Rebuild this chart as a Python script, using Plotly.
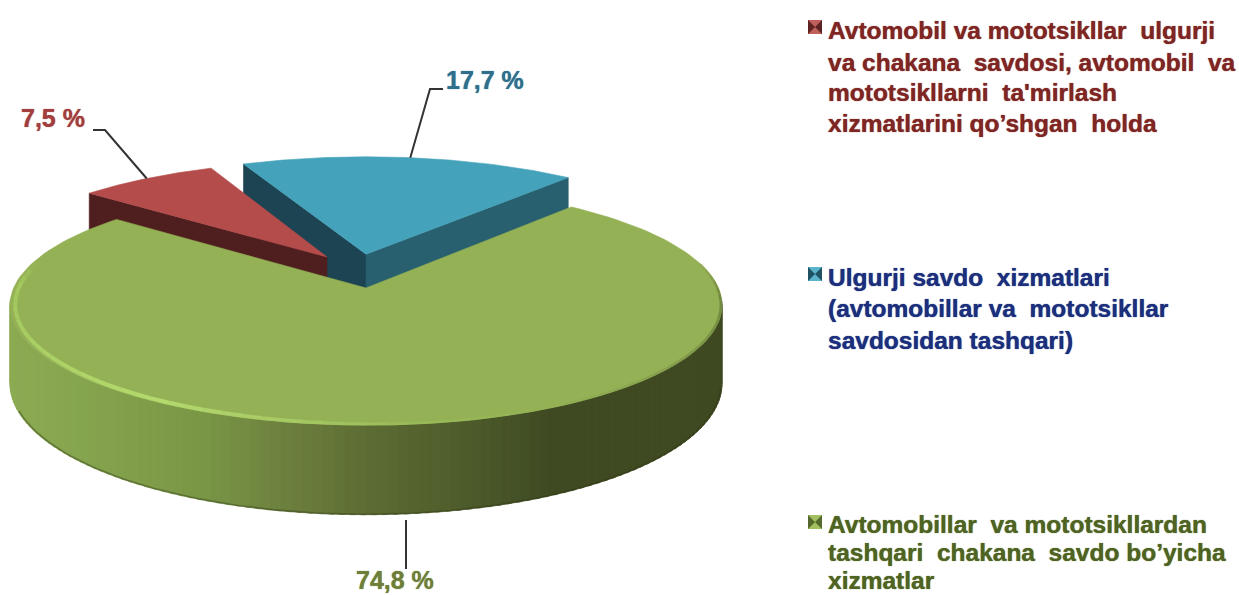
import math
import numpy as np
import plotly.graph_objects as go

# ---- data ----
categories = ["Avtomobil va mototsikllar", "Ulgurji savdo xizmatlari", "Chakana savdo xizmatlari"]
values = [7.5, 17.7, 74.8]
value_labels = ["7,5 %", "17,7 %", "74,8 %"]
legend_red = ["Avtomobil va mototsikllar  ulgurji", "va chakana  savdosi, avtomobil  va", "mototsikllarni  ta'mirlash", "xizmatlarini qo’shgan  holda"]
legend_blue = ["Ulgurji savdo  xizmatlari", "(avtomobillar va  mototsikllar", "savdosidan tashqari)"]
legend_green = ["Avtomobillar  va mototsikllardan", "tashqari  chakana  savdo bo’yicha", "xizmatlar"]

# ---- projection of the pie (style) ----
START = 309.5
CX, A, P, Q, K, H = 366.0, 352.4, 288.0, -76.8, 0.1417, 77.0
OFFSETS = [(-0.115, 0.274), (0.0, 0.30), (0.0, 0.0)]
RADII = [1.0, 1.025, 1.0]
TOP = ["#b34c4a", "#44a2bb", "#95b155"]


def project(u, v, drop=0.0):
    w = 1 + K * v
    return CX + A * u / w, (P + Q * v + drop * H) / w


def edge(theta, off=(0, 0), r=1.0, drop=0.0):
    t = np.radians(np.asarray(theta, dtype=float))
    return project(r * np.sin(t) + off[0], r * np.cos(t) + off[1], drop)


def hex_rgb(c):
    return [int(c[i:i + 2], 16) for i in (1, 3, 5)]


def ramp(x, xs, cs):
    rgb = [np.interp(x, xs, [hex_rgb(c)[i] for c in cs]) for i in range(3)]
    return "rgb(%d,%d,%d)" % tuple(int(round(a)) for a in rgb)


fig = go.Figure()


def poly(xs, ys, color):
    fig.add_trace(go.Scatter(x=list(xs), y=list(ys), mode="lines", fill="toself", fillcolor=color,
                             line=dict(color=color, width=0.6), hoverinfo="skip", showlegend=False))


def path(xs, ys, color, width):
    fig.add_trace(go.Scatter(x=list(xs), y=list(ys), mode="lines", line=dict(color=color, width=width),
                             hoverinfo="skip", showlegend=False))


# slice angular spans come from the values
total = sum(values)
spans = []
a0 = START
for val in values:
    a1 = a0 + 360 * val / total
    spans.append((a0, a1))
    a0 = a1


def radial_face(i, angle, color):
    off, r = OFFSETS[i], RADII[i]
    x0, y0 = project(off[0], off[1])
    x0b, y0b = project(off[0], off[1], 1)
    x1, y1 = edge(angle, off, r)
    x1b, y1b = edge(angle, off, r, drop=1)
    poly([x0, float(x1), float(x1b), x0b, x0], [y0, float(y1), float(y1b), y0b, y0], color)


def top_face(i):
    lo, hi = spans[i]
    th = np.linspace(lo, hi, 160)
    ex, ey = edge(th, OFFSETS[i], RADII[i])
    ax, ay = project(*OFFSETS[i])
    poly([ax, *ex, ax], [ay, *ey, ay], TOP[i])


# blue wedge (behind), then red wedge, then the green body in front
radial_face(1, spans[1][0], "#1d4452")
radial_face(1, spans[1][1], "#28606f")
top_face(1)
radial_face(0, spans[0][0], "#4f1e1e")
top_face(0)

# green outer wall, shaded strip by strip
side_x = [10, 100, 200, 300, 366, 450, 550, 722]
side_c = ["#8cab52", "#84a24d", "#7a9646", "#6a7c3c", "#5c6c33", "#505e2c", "#3f4a22", "#3f4a22"]
for a in np.arange(96, 264, 1.5):
    th = np.linspace(a, a + 2.2, 3)
    xt, yt = edge(th)
    xb, yb = edge(th, drop=1)
    poly([*xt, *xb[::-1], xt[0]], [*yt, *yb[::-1], yt[0]], ramp(float(edge(a + 1.0)[0]), side_x, side_c))

# darker lower lip
th = np.linspace(100, 250, 120)
xb, yb = edge(th, r=0.997, drop=1)
path(xb, yb, "rgba(45,55,22,0.4)", 1.6)

# green top face and its bevel
top_face(2)
rim_t = [78, 95, 120, 150, 175, 191, 212, 262, 272, 282]
rim_c = ["#95b155", "#6f8640", "#7f9849", "#93b054", "#9abb58", "#a6c964", "#b4da6e", "#a2c85e", "#a4c95f", "#95b155"]
for a in np.arange(78, 282, 3.0):
    th = np.linspace(a, a + 3.0, 3)
    r = float(np.interp(a, [78, 165, 200, 282], [0.997, 0.997, 0.988, 0.985]))
    w = float(np.interp(a, [78, 165, 200], [2.5, 2.5, 4]))
    xr, yr = edge(th, r=r)
    path(xr, yr, ramp(a + 1.5, rim_t, rim_c), w)

# leader lines start on each slice's mid angle
mids = [(s[0] + s[1]) / 2 for s in spans]
x, y = edge(mids[0], OFFSETS[0], RADII[0])
path([float(x), 105, 93], [float(y), 130, 130], "#333333", 2)
x, y = edge(mids[1], OFFSETS[1], RADII[1])
path([float(x), 430, 443], [float(y), 89, 89], "#333333", 2)
path([406, 406], [520, 569], "#333333", 2)

# legend keys
for yk, light, dark in [(27, "#c0605c", "#5e2322"), (274, "#5cb4cc", "#1f5363"), (522, "#a3c060", "#56692c")]:
    fig.add_trace(go.Scatter(x=[815], y=[yk], mode="markers", hoverinfo="skip", showlegend=False,
                             marker=dict(symbol="square", size=14, color=light, line=dict(width=0))))
    fig.add_trace(go.Scatter(x=[815], y=[yk], mode="markers", hoverinfo="skip", showlegend=False,
                             marker=dict(symbol="bowtie", size=14, color=dark, line=dict(width=0))))

ann = []


def text(x, y, s, color, size, anchor="left"):
    ann.append(dict(x=x, y=y, text="<b>%s</b>" % s, xref="x", yref="y", xanchor=anchor, yanchor="middle",
                    showarrow=False, borderpad=0,
                    font=dict(family="Liberation Sans", size=size, color=color, shadow="0px 0px 1px " + color)))


for ys, lines, col in [([30, 62, 92, 123], legend_red, "#7f2624"),
                       ([277, 308, 340], legend_blue, "#1b2f7c"),
                       ([524, 552, 580], legend_green, "#4f6322")]:
    for yy, line in zip(ys, lines):
        text(827, yy, line.replace("  ", "\u00a0\u00a0"), col, 24.5)

text(53, 118, value_labels[0], "#a23f3e", 25, "center")
text(485, 80, value_labels[1], "#2f6f8d", 25, "center")
text(395, 580, value_labels[2], "#6f7f3a", 25, "center")

fig.update_layout(
    width=1239, height=595, margin=dict(l=0, r=0, t=0, b=0),
    paper_bgcolor="white", plot_bgcolor="white", showlegend=False, annotations=ann,
    xaxis=dict(range=[0, 1239], visible=False, fixedrange=True),
    yaxis=dict(range=[595, 0], visible=False, fixedrange=True),
)
fig.write_html("out.html", config=dict(displayModeBar=False),
               post_script="document.body.style.margin='0';")
